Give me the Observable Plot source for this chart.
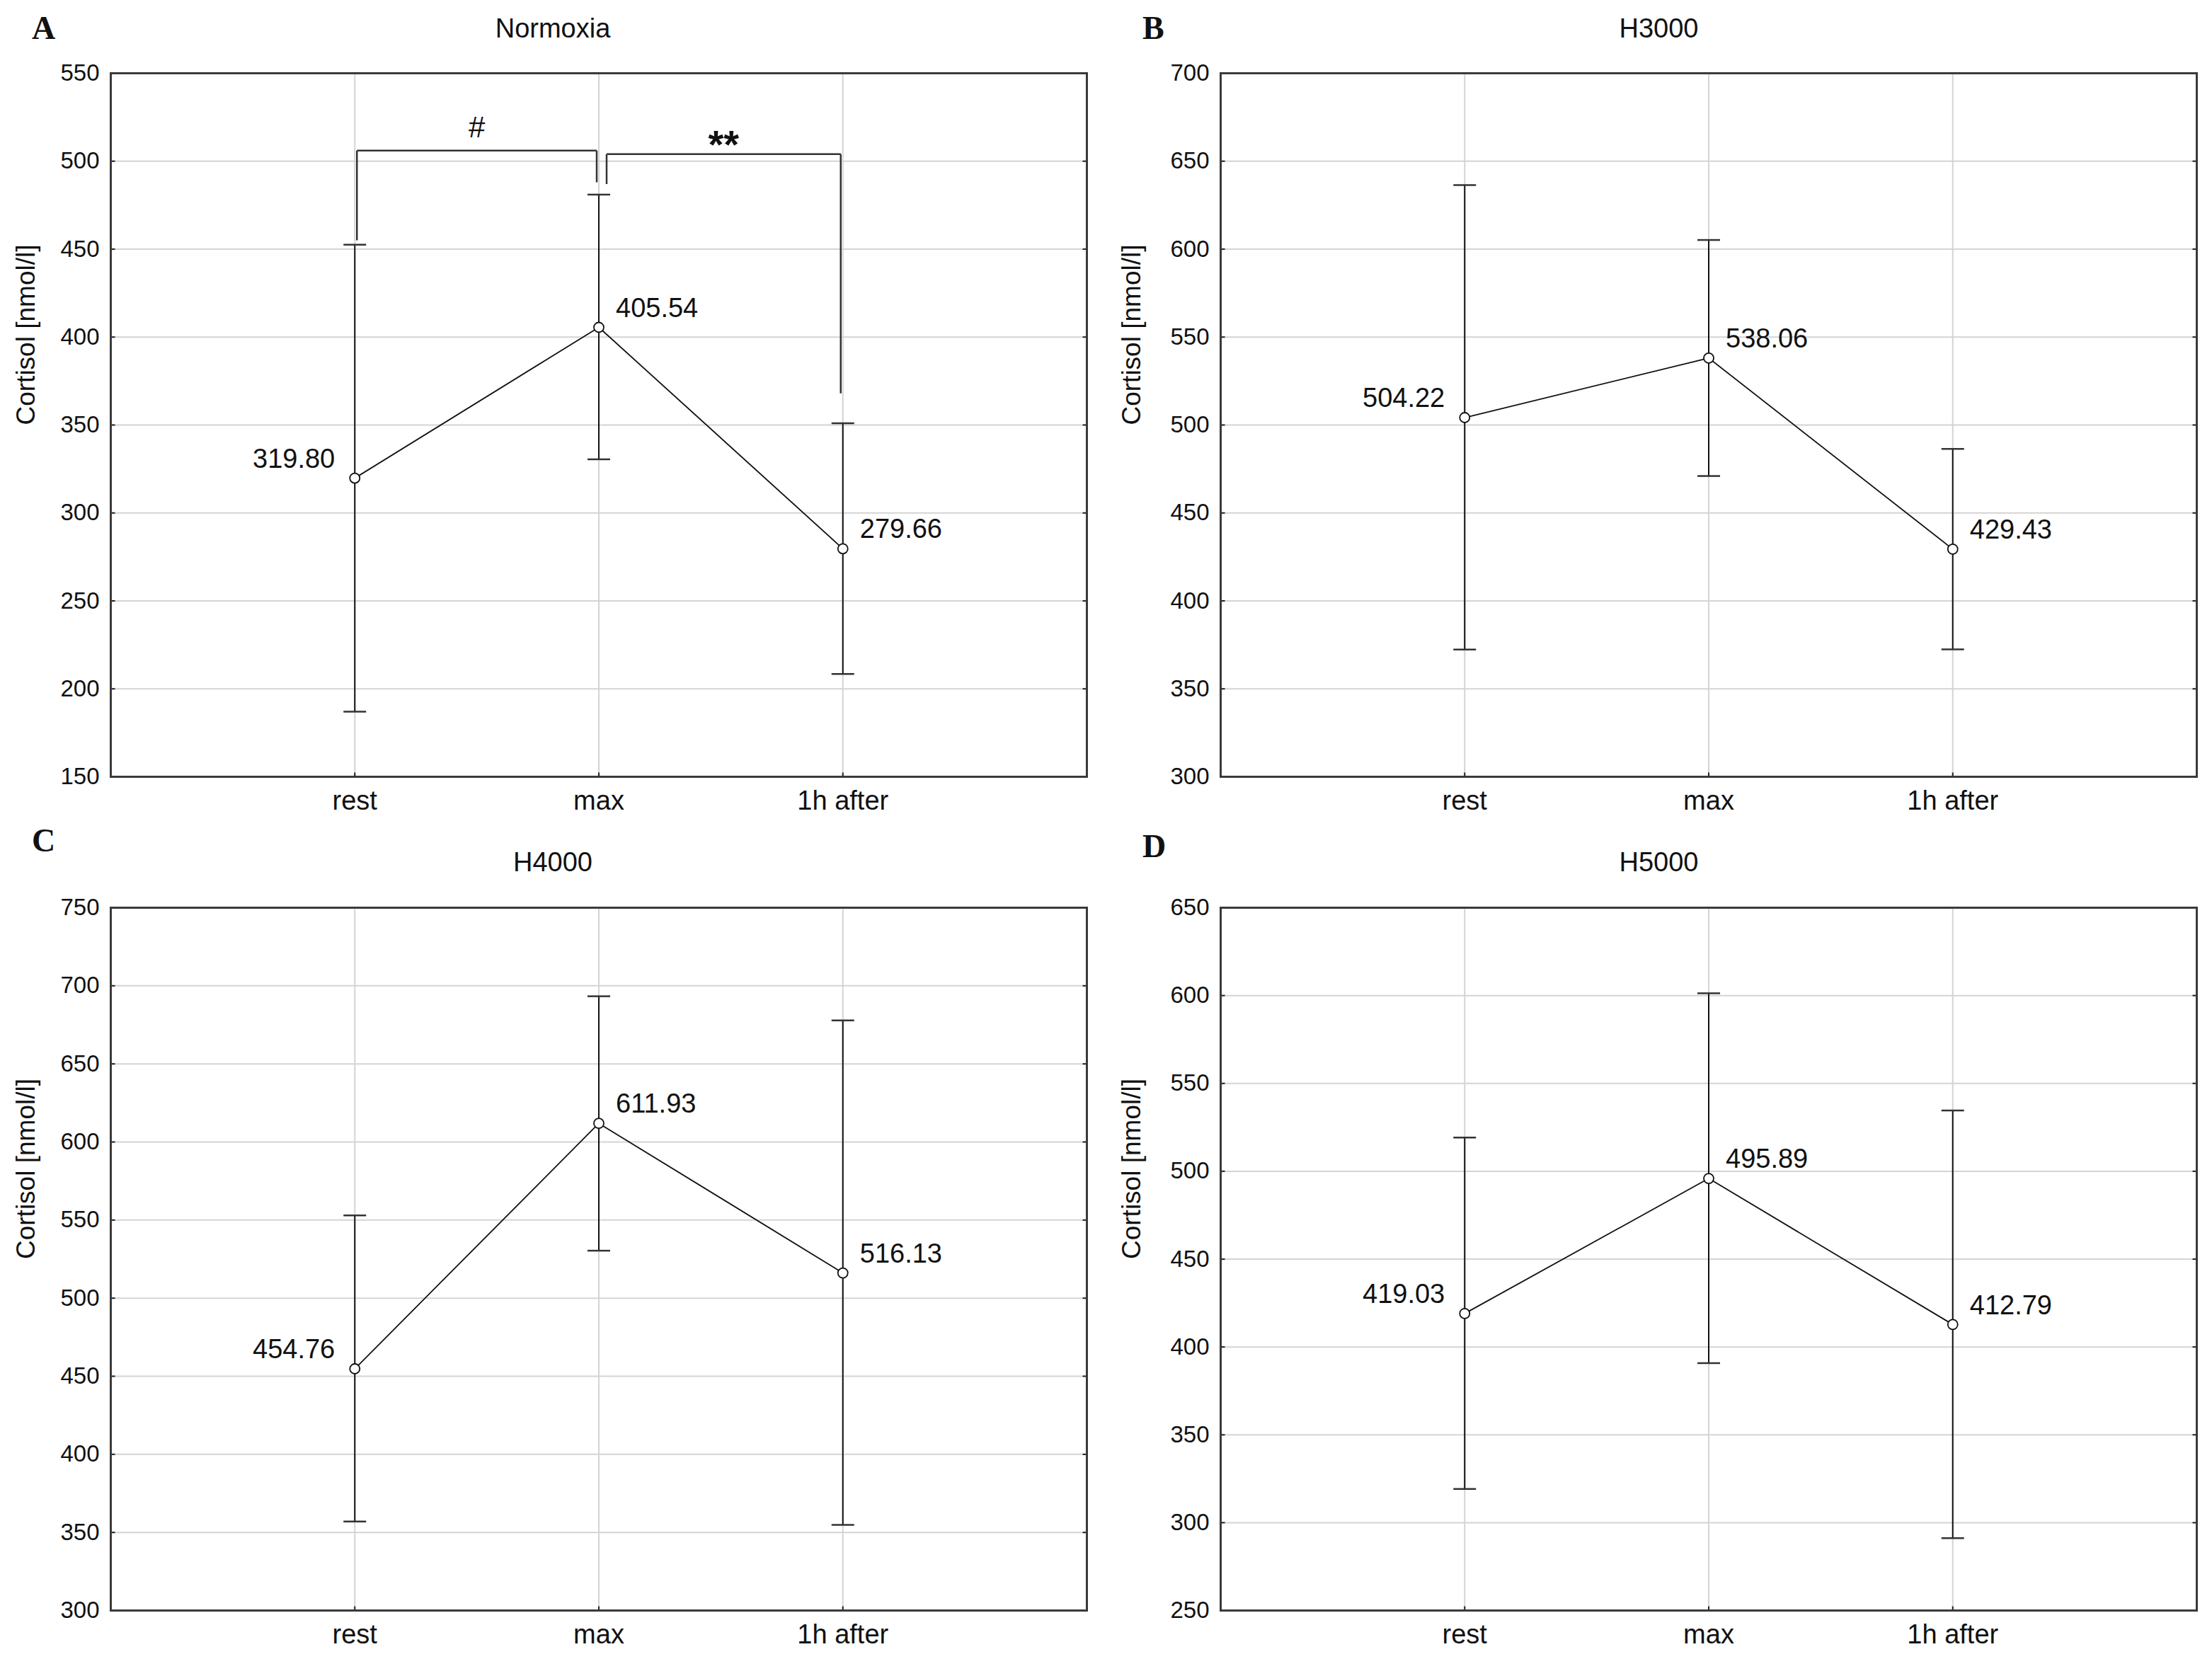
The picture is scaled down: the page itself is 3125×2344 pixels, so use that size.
<!DOCTYPE html>
<html>
<head>
<meta charset="utf-8">
<script src="https://cdn.jsdelivr.net/npm/d3@7"></script>
<script src="https://cdn.jsdelivr.net/npm/@observablehq/plot@0.6"></script>
<style>
  html, body { margin: 0; padding: 0; background: #fff; }
  body { width: 3125px; height: 2344px; position: relative; overflow: hidden; font-family: "Liberation Sans", Arial, sans-serif; }
  .panel { position: absolute; }
  .header { position: relative; }
  .letter { position: absolute; font-family: "Liberation Serif", "Times New Roman", serif; font-weight: bold; font-size: 46px; line-height: 46px; color: #111; }
  .title { position: absolute; left: 0; right: 0; text-align: center; font-size: 38px; line-height: 38px; color: #111; }
  svg { display: block; }
</style>
</head>
<body>
<script>
// ---------------- data ----------------
const categories = ["rest", "max", "1h after"];

const normoxiaMean = [319.80, 405.54, 279.66];
const normoxiaLow  = [187.0, 330.5, 208.5];
const normoxiaHigh = [452.5, 481.0, 351.0];

const h3000Mean = [504.22, 538.06, 429.43];
const h3000Low  = [372.3, 471.0, 372.4];
const h3000High = [636.4, 605.2, 486.4];

const h4000Mean = [454.76, 611.93, 516.13];
const h4000Low  = [357.0, 530.4, 354.8];
const h4000High = [553.0, 693.3, 677.8];

const h5000Mean = [419.03, 495.89, 412.79];
const h5000Low  = [319.2, 390.8, 291.2];
const h5000High = [519.2, 601.3, 534.6];

const normoxiaTicks = [150, 200, 250, 300, 350, 400, 450, 500, 550];
const h3000Ticks = [300, 350, 400, 450, 500, 550, 600, 650, 700];
const h4000Ticks = [300, 350, 400, 450, 500, 550, 600, 650, 700, 750];
const h5000Ticks = [250, 300, 350, 400, 450, 500, 550, 600, 650];

// significance brackets (Normoxia only)
const bracketFrom   = ["rest", "max"];
const bracketTo     = ["max", "1h after"];
const bracketFromY  = [455, 487];
const bracketToY    = [488, 368];
const bracketTopY   = [506, 504];
const bracketLabel  = ["#", "**"];
const bracketLabelY = [519, 513];

const yLabel = "Cortisol [nmol/l]";

// ---------------- layout ----------------
const panels = [
  {letter: "A", title: "Normoxia", mean: normoxiaMean, low: normoxiaLow, high: normoxiaHigh, ticks: normoxiaTicks, brackets: true,
   left: 0, top: 0, width: 1562, header: 70, height: 1102, mt: 33, mb: 75, ml: 156, mr: 27,
   letterLeft: 45, letterTop: 17, titleTop: 21},
  {letter: "B", title: "H3000", mean: h3000Mean, low: h3000Low, high: h3000High, ticks: h3000Ticks, brackets: false,
   left: 1562, top: 0, width: 1563, header: 70, height: 1102, mt: 33, mb: 75, ml: 162, mr: 22,
   letterLeft: 52, letterTop: 17, titleTop: 21},
  {letter: "C", title: "H4000", mean: h4000Mean, low: h4000Low, high: h4000High, ticks: h4000Ticks, brackets: false,
   left: 0, top: 1172, width: 1562, header: 76, height: 1096, mt: 34, mb: 69, ml: 156, mr: 27,
   letterLeft: 45, letterTop: -7, titleTop: 27},
  {letter: "D", title: "H5000", mean: h5000Mean, low: h5000Low, high: h5000High, ticks: h5000Ticks, brackets: false,
   left: 1562, top: 1172, width: 1563, header: 76, height: 1096, mt: 34, mb: 69, ml: 162, mr: 22,
   letterLeft: 52, letterTop: 1, titleTop: 27}
];

const xPos = c => categories.indexOf(c) + 1;

for (const p of panels) {
  const wrap = document.createElement("div");
  wrap.className = "panel";
  wrap.style.left = p.left + "px";
  wrap.style.top = p.top + "px";
  wrap.style.width = p.width + "px";

  const header = document.createElement("div");
  header.className = "header";
  header.style.height = p.header + "px";
  const letter = document.createElement("div");
  letter.className = "letter";
  letter.textContent = p.letter;
  letter.style.left = p.letterLeft + "px";
  letter.style.top = p.letterTop + "px";
  const title = document.createElement("div");
  title.className = "title";
  title.textContent = p.title;
  title.style.top = p.titleTop + "px";
  header.appendChild(letter);
  header.appendChild(title);
  wrap.appendChild(header);

  const rows = categories.map((c, i) => ({cat: c, mean: p.mean[i], low: p.low[i], high: p.high[i]}));
  const frameW = p.width - p.ml - p.mr;
  const frameH = p.height - p.mt - p.mb;
  const unitPx = frameW / 4;          // pixels per category step
  const capHalf = 16 / unitPx;        // error-bar cap half width (in x units)
  const tickLen = 6 / unitPx;
  const yMin = p.ticks[0], yMax = p.ticks[p.ticks.length - 1];
  const tickLenY = 6 * (yMax - yMin) / frameH;

  const marks = [
    Plot.gridY(p.ticks, {stroke: "#d4d4d4", strokeOpacity: 1, strokeWidth: 2}),
    Plot.gridX([1, 2, 3], {stroke: "#d4d4d4", strokeOpacity: 1, strokeWidth: 2}),
    // inward tick marks on the frame
    Plot.link(p.ticks, {x1: 0, x2: tickLen, y1: d => d, y2: d => d, stroke: "#222", strokeWidth: 2}),
    Plot.link(p.ticks, {x1: 4, x2: 4 - tickLen, y1: d => d, y2: d => d, stroke: "#222", strokeWidth: 2}),
    Plot.link([1, 2, 3], {x1: d => d, x2: d => d, y1: yMin, y2: yMin + tickLenY, stroke: "#222", strokeWidth: 2}),
    Plot.frame({stroke: "#3a3a3a", strokeWidth: 3}),
    Plot.axisY(p.ticks, {tickSize: 0, tickPadding: 16, fontSize: 33, fill: "#111"}),
    Plot.axisX([1, 2, 3], {tickSize: 0, tickPadding: 20, fontSize: 38, fill: "#111", tickFormat: d => categories[d - 1]}),
    Plot.text([yLabel], {frameAnchor: "left", text: d => d, rotate: -90, dx: -(p.ml - 37), fontSize: 37, fill: "#111"}),
    // error bars
    Plot.ruleX(rows, {x: d => xPos(d.cat), y1: "low", y2: "high", stroke: "#111", strokeWidth: 2}),
    Plot.link(rows, {x1: d => xPos(d.cat) - capHalf, x2: d => xPos(d.cat) + capHalf, y1: "high", y2: "high", stroke: "#333", strokeWidth: 2.5}),
    Plot.link(rows, {x1: d => xPos(d.cat) - capHalf, x2: d => xPos(d.cat) + capHalf, y1: "low", y2: "low", stroke: "#333", strokeWidth: 2.5}),
    // mean line and points
    Plot.line(rows, {x: d => xPos(d.cat), y: "mean", stroke: "#111", strokeWidth: 1.8}),
    Plot.dot(rows, {x: d => xPos(d.cat), y: "mean", r: 7, stroke: "#111", fill: "#fff", strokeWidth: 1.8}),
    Plot.text(rows.filter(d => d.cat === "rest"), {x: d => xPos(d.cat), y: "mean", text: d => d.mean.toFixed(2), textAnchor: "end", dx: -28, dy: -27, fontSize: 38, fill: "#111"}),
    Plot.text(rows.filter(d => d.cat !== "rest"), {x: d => xPos(d.cat), y: "mean", text: d => d.mean.toFixed(2), textAnchor: "start", dx: 24, dy: -27, fontSize: 38, fill: "#111"})
  ];

  if (p.brackets) {
    const fromGap = [3, 11], toGap = [-3, -3];
    const segs = [];
    const labels = [];
    bracketFrom.forEach((f, i) => {
      const x1 = xPos(f) + fromGap[i] / unitPx;
      const x2 = xPos(bracketTo[i]) + toGap[i] / unitPx;
      segs.push({x1, x2: x1, y1: bracketFromY[i], y2: bracketTopY[i]});
      segs.push({x1, x2, y1: bracketTopY[i], y2: bracketTopY[i]});
      segs.push({x1: x2, x2, y1: bracketTopY[i], y2: bracketToY[i]});
      labels.push({x: (x1 + x2) / 2, y: bracketLabelY[i], text: bracketLabel[i]});
    });
    marks.push(Plot.link(segs, {x1: "x1", x2: "x2", y1: "y1", y2: "y2", stroke: "#333", strokeWidth: 2.5}));
    marks.push(Plot.text(labels.filter(d => d.text === "#"), {x: "x", y: "y", text: "text", fontSize: 42, fill: "#111"}));
    marks.push(Plot.text(labels.filter(d => d.text !== "#"), {x: "x", y: "y", text: "text", fontSize: 56, fontWeight: "bold", fill: "#111", dy: 10}));
  }

  const chart = Plot.plot({
    width: p.width,
    height: p.height,
    marginTop: p.mt,
    marginBottom: p.mb,
    marginLeft: p.ml,
    marginRight: p.mr,
    style: {fontFamily: "'Liberation Sans', Arial, sans-serif", background: "#fff", overflow: "visible"},
    x: {domain: [0, 4], axis: null},
    y: {domain: [yMin, yMax], axis: null},
    marks
  });
  wrap.appendChild(chart);
  document.body.appendChild(wrap);
}
</script>
</body>
</html>
